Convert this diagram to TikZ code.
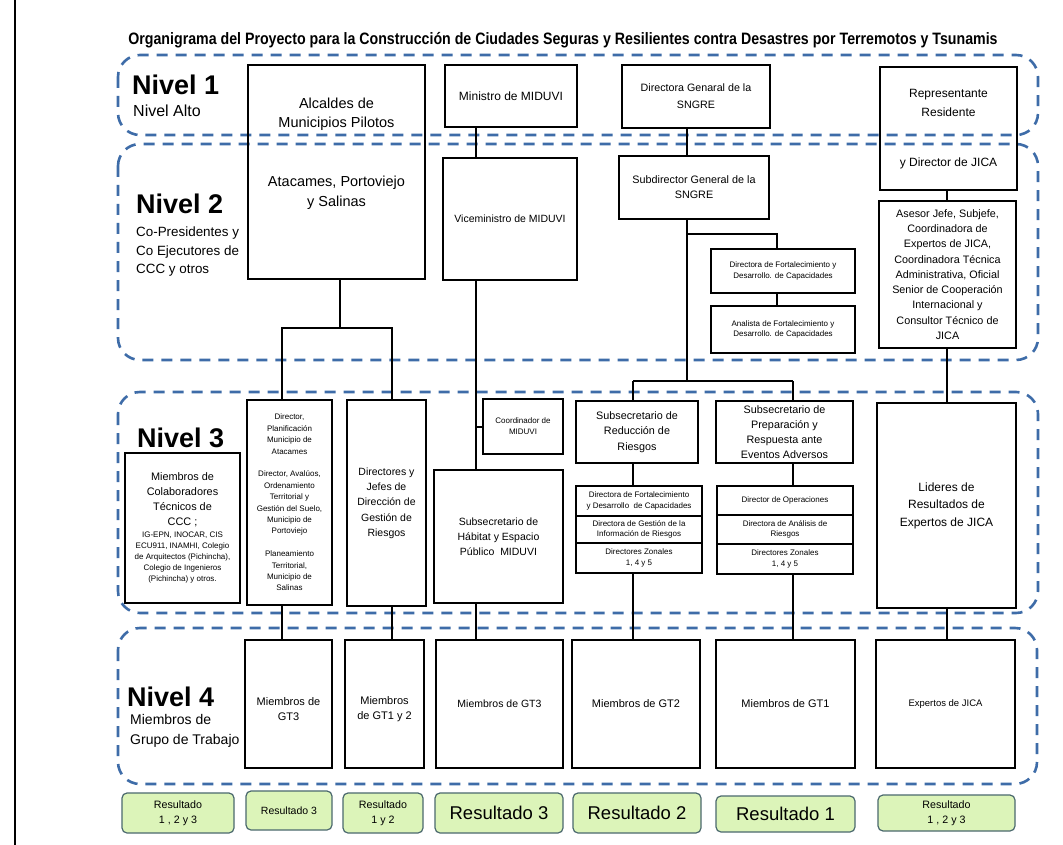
\documentclass[tikz,border=0pt]{standalone}
\usepackage{fontspec}
\setmainfont{Liberation Sans}
\usetikzlibrary{positioning}
\definecolor{bandblue}{RGB}{62,108,168}
\definecolor{resfill}{RGB}{220,244,185}
\definecolor{resline}{RGB}{75,105,110}
\newcommand{\fsz}[2]{\fontsize{#1}{#2}\selectfont}

\begin{document}
\begin{tikzpicture}[x=1pt,y=-1pt,
  box/.style={draw,line width=1.1pt,inner sep=2pt,align=center},
  txt/.style={inner sep=0pt,align=center},
  lvl/.style={inner sep=0pt,anchor=west,font=\bfseries\fsz{27}{30}},
  lvlsub/.style={inner sep=0pt,anchor=west,align=left},
  band/.style={draw=bandblue,line width=2.6pt,dash pattern=on 11pt off 8pt,rounded corners=22pt},
  res/.style={draw=resline,fill=resfill,line width=1.2pt,rounded corners=5pt,align=center,inner sep=1pt},
  conn/.style={line width=1.1pt},
]
\useasboundingbox (0,0) rectangle (1063,845);
\fill[white] (0,0) rectangle (1063,845);
\draw[line width=1.2pt] (15,0) -- (15,845);

\node[txt,font=\bfseries\fsz{16.5}{18}] (title) at (563,40)
  {\scalebox{0.86}[1]{Organigrama del Proyecto para la Construcción de Ciudades Seguras y Resilientes contra Desastres por Terremotos y Tsunamis}};

% niveles
\draw[band] (118,55) rectangle (1038,135);
\draw[band] (118,144) rectangle (1038,360);
\draw[band] (118,392) rectangle (1038,613);
\draw[band] (118,628) rectangle (1037,784);

\node[lvl] (n1) at (132,85) {Nivel 1};
\node[lvlsub,font=\fsz{16}{19}] (n1s) at (133,111) {Nivel Alto};
\node[lvl] (n2) at (136,204) {Nivel 2};
\node[lvlsub,font=\fsz{13.4}{18.5}] (n2s) at (136,252) {Co-Presidentes y\\Co Ejecutores de\\CCC y otros};
\node[lvl] (n3) at (137,438) {Nivel 3};
\node[lvl] (n4) at (127,697) {Nivel 4};
\node[lvlsub,font=\fsz{14}{20}] (n4s) at (130,731) {Miembros de\\Grupo de Trabajo};

% nivel 1 y 2
\node[box,minimum width=177pt,minimum height=214pt] (alc) at (336.5,172) {};
\node[txt,font=\fsz{14.5}{19}] (alct) at (336.5,114) {Alcaldes de\\Municipios Pilotos};
\node[txt,font=\fsz{14.5}{20}] (alcb) at (336.5,193) {Atacames, Portoviejo\\y Salinas};
\node[box,minimum width=132pt,minimum height=62pt,font=\fsz{12}{15}] (min) at (511,96) {Ministro de MIDUVI};
\node[box,minimum width=148pt,minimum height=63pt,font=\fsz{10.7}{17}] (dg) at (696,96.5) {Directora Genaral de la\\SNGRE};
\node[box,minimum width=137pt,minimum height=123pt] (rep) at (948.5,128.5) {};
\node[txt,font=\fsz{12}{19}] (rept) at (948.5,102.5) {Representante\\Residente};
\node[txt,font=\fsz{12}{15}] (repb) at (948.5,163) {y Director de JICA};
\node[box,minimum width=134pt,minimum height=122pt,font=\fsz{10.5}{14}] (vice) at (510,219) {Viceministro de MIDUVI};
\node[box,minimum width=150pt,minimum height=63pt,font=\fsz{10.8}{15}] (subd) at (694,187.5) {Subdirector General de la\\SNGRE};
\node[box,minimum width=144pt,minimum height=44pt,font=\fsz{8}{10.7}] (dfort) at (783,271) {Directora de Fortalecimiento y\\Desarrollo. de Capacidades};
\node[box,minimum width=144pt,minimum height=47pt,font=\fsz{8}{10.7}] (anal) at (783,329.5) {Analista de Fortalecimiento y\\Desarrollo. de Capacidades};
\node[box,minimum width=137pt,minimum height=147pt,font=\fsz{10.8}{15.3}] (ases) at (947.5,274.5)
  {Asesor Jefe, Subjefe,\\Coordinadora de\\Expertos de JICA,\\Coordinadora Técnica\\Administrativa, Oficial\\Senior de Cooperación\\Internacional y\\Consultor Técnico de\\JICA};

% nivel 3
\node[box,minimum width=115pt,minimum height=150pt] (ccc) at (182.5,528) {};
\node[txt,font=\fsz{10.9}{15}] (ccct) at (182.5,499.5) {Miembros de\\Colaboradores\\Técnicos de\\CCC ;};
\node[txt,font=\fsz{8}{11}] (cccb) at (182.5,558) {IG-EPN, INOCAR, CIS\\ECU911, INAMHI, Colegio\\de Arquitectos (Pichincha),\\Colegio de Ingenieros\\(Pichincha) y otros.};
\node[box,minimum width=85pt,minimum height=205pt,font=\fsz{8}{11.4}] (dirp) at (289.5,502.5)
  {Director,\\Planificación\\Municipio de\\Atacames\\[11.4pt]Director, Avalúos,\\Ordenamiento\\Territorial y\\Gestión del Suelo,\\Municipio de\\Portoviejo\\[11.4pt]Planeamiento\\Territorial,\\Municipio de\\Salinas};
\node[box,minimum width=79pt,minimum height=206pt,font=\fsz{10.5}{15.3}] (djef) at (386.5,503) {Directores y\\Jefes de\\Dirección de\\Gestión de\\Riesgos};
\node[box,minimum width=80pt,minimum height=55pt,font=\fsz{8}{11}] (coor) at (523,426.5) {Coordinador de\\MIDUVI};
\node[box,minimum width=129pt,minimum height=133pt,font=\fsz{10.5}{15}] (hab) at (498.5,536.5) {Subsecretario de\\Hábitat y Espacio\\Público~ MIDUVI};
\node[box,minimum width=122pt,minimum height=62pt,font=\fsz{10.8}{15.5}] (sred) at (637,432) {Subsecretario de\\Reducción de\\Riesgos};
\node[box,minimum width=126pt,minimum height=30pt,font=\fsz{8}{10.5}] (rd1) at (639,501) {Directora de Fortalecimiento\\y Desarrollo~ de Capacidades};
\node[box,minimum width=126pt,minimum height=27pt,font=\fsz{8}{10.5}] (rd2) at (639,529.5) {Directora de Gestión de la\\Información de Riesgos};
\node[box,minimum width=126pt,minimum height=30pt,font=\fsz{8}{10.5}] (rd3) at (639,558) {Directores Zonales\\1, 4 y 5};
\node[box,minimum width=137pt,minimum height=62pt,font=\fsz{10.8}{15}] (sprep) at (784.5,432) {Subsecretario de\\Preparación y\\Respuesta ante\\Eventos Adversos};
\node[box,minimum width=136pt,minimum height=29pt,font=\fsz{8}{10.5}] (pd1) at (785,500.5) {Director de Operaciones};
\node[box,minimum width=136pt,minimum height=29pt,font=\fsz{8}{10.5}] (pd2) at (785,529.5) {Directora de Análisis de\\Riesgos};
\node[box,minimum width=136pt,minimum height=30pt,font=\fsz{8}{10.5}] (pd3) at (785,559) {Directores Zonales\\1, 4 y 5};
\node[box,minimum width=139pt,minimum height=205pt,font=\fsz{12}{17.5}] (lid) at (946.5,505.5) {Lideres de\\Resultados de\\Expertos de JICA};

% nivel 4
\node[box,minimum width=87pt,minimum height=128pt,font=\fsz{11}{15}] (g3a) at (288.5,704) {\\[4pt]Miembros de\\GT3};
\node[box,minimum width=79pt,minimum height=128pt,font=\fsz{11}{15}] (g12) at (384.5,704) {\\[4pt]Miembros\\de GT1 y 2};
\node[box,minimum width=127pt,minimum height=128pt,font=\fsz{10.5}{15}] (g3b) at (499.5,704) {Miembros de GT3};
\node[box,minimum width=128pt,minimum height=128pt,font=\fsz{11}{15}] (g2) at (636,704) {Miembros de GT2};
\node[box,minimum width=139pt,minimum height=128pt,font=\fsz{11}{15}] (g1) at (785.5,704) {Miembros de GT1};
\node[box,minimum width=139pt,minimum height=128pt,font=\fsz{9.5}{15}] (jica) at (945.5,704) {Expertos de JICA};

% resultados
\node[res,minimum width=112pt,minimum height=40pt,font=\fsz{10.7}{15}] (r1) at (178,813) {Resultado\\1 , 2 y 3};
\node[res,minimum width=86pt,minimum height=39pt,font=\fsz{10.5}{15}] (r2) at (289,810.5) {Resultado 3};
\node[res,minimum width=80pt,minimum height=40pt,font=\fsz{10.7}{15}] (r3) at (383,813) {Resultado\\1 y 2};
\node[res,minimum width=128pt,minimum height=40pt,font=\fsz{18.5}{22}] (r4) at (499,813) {Resultado 3};
\node[res,minimum width=128pt,minimum height=40pt,font=\fsz{18.5}{22}] (r5) at (637,813) {Resultado 2};
\node[res,minimum width=139pt,minimum height=36pt,font=\fsz{18.5}{22}] (r6) at (785.5,814) {Resultado 1};
\node[res,minimum width=137pt,minimum height=36pt,font=\fsz{10.7}{15}] (r7) at (946.5,813) {Resultado\\1 , 2 y 3};

% lineas
\coordinate (alcj) at (340,328);
\coordinate (ca) at (282,328);
\coordinate (cb) at (392,328);
\coordinate (cm) at (476,427);
\coordinate (cs) at (687,381);
\coordinate (cs2) at (687,234);
\coordinate (cf) at (777,234);
\coordinate (cr) at (633,381);
\coordinate (cp) at (793,381);
\coordinate (cj) at (947,0);

\draw[conn] (alc.south -| alcj) -- (alcj);
\draw[conn] (dirp.north -| ca) -- (ca) -- (cb) -- (djef.north -| cb);
\draw[conn] (dirp.south -| ca) -- (g3a.north -| ca);
\draw[conn] (djef.south -| cb) -- (g12.north -| cb);
\draw[conn] (min.south -| cm) -- (vice.north -| cm);
\draw[conn] (vice.south -| cm) -- (hab.north -| cm);
\draw[conn] (cm) -- (coor.west |- cm);
\draw[conn] (hab.south -| cm) -- (g3b.north -| cm);
\draw[conn] (dg.south -| cs) -- (subd.north -| cs);
\draw[conn] (subd.south -| cs) -- (cs);
\draw[conn] (cs2) -- (cf) -- (dfort.north -| cf);
\draw[conn] (dfort.south -| cf) -- (anal.north -| cf);
\draw[conn] (cr) -- (cp);
\draw[conn] (cr) -- (sred.north -| cr);
\draw[conn] (cp) -- (sprep.north -| cp);
\draw[conn] (sred.south -| cr) -- (rd1.north -| cr);
\draw[conn] (sprep.south -| cp) -- (pd1.north -| cp);
\draw[conn] (rd3.south -| cr) -- (g2.north -| cr);
\draw[conn] (pd3.south -| cp) -- (g1.north -| cp);
\draw[conn] (rep.south -| cj) -- (ases.north -| cj);
\draw[conn] (ases.south -| cj) -- (lid.north -| cj);
\draw[conn] (lid.south -| cj) -- (jica.north -| cj);
\end{tikzpicture}
\end{document}
